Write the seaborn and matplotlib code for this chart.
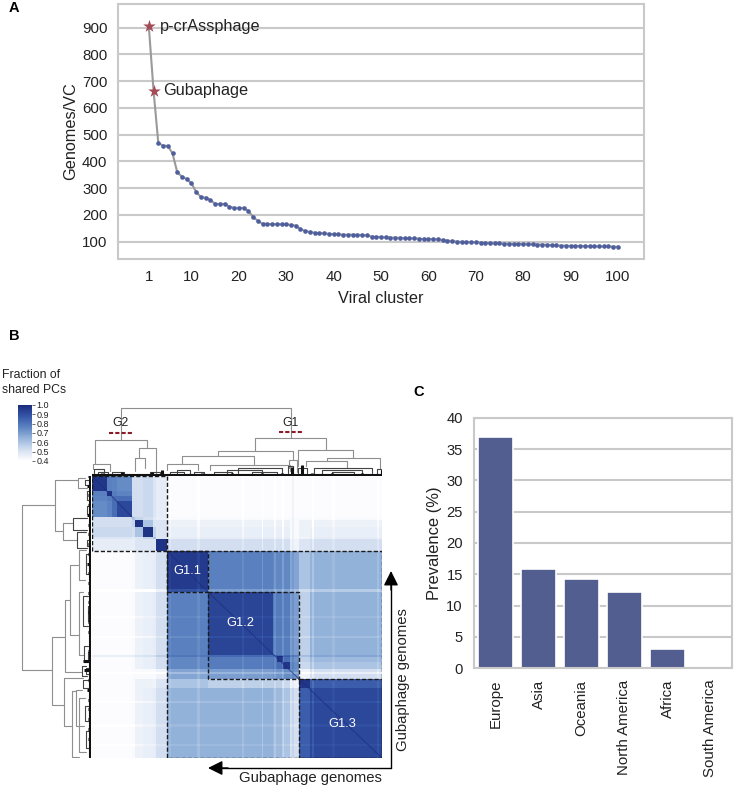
import numpy as np
import pandas as pd
import matplotlib
matplotlib.use('Agg')
import matplotlib.pyplot as plt
import seaborn as sns
from matplotlib.colors import LinearSegmentedColormap
from matplotlib.patches import Rectangle

W, H = 735, 789

# Panel A
cluster_ids = list(range(1, 101))
genomes_per_vc = [905, 664, 469, 459, 458, 430, 359, 343, 334, 318,
                  285, 267, 264, 256, 241, 241, 241, 231, 226, 226,
                  226, 215, 193, 177, 167, 166, 165, 165, 165, 165,
                  162, 160, 146, 140, 136, 133, 131, 131, 129, 128,
                  127, 126, 126, 126, 125, 125, 123, 119, 118, 117,
                  116, 115, 115, 114, 113, 112, 112, 111, 110, 110,
                  109, 108, 106, 104, 102, 100, 99, 99, 98, 98,
                  96, 95, 94, 93, 93, 92, 92, 91, 91, 91,
                  90, 90, 89, 89, 88, 87, 86, 85, 85, 84,
                  84, 84, 83, 83, 83, 82, 82, 82, 81, 81]
x_ticks_a = [1, 10, 20, 30, 40, 50, 60, 70, 80, 90, 100]
y_ticks_a = [100, 200, 300, 400, 500, 600, 700, 800, 900]

# Panel C
regions = ['Europe', 'Asia', 'Oceania', 'North America', 'Africa', 'South America']
prevalence = [37.0, 15.9, 14.2, 12.2, 3.1, 0.0]

# Panel B: genome blocks along each side of the matrix
col_sizes = [15, 5, 5, 15, 3, 8, 10, 3, 11, 41, 65, 4, 6, 7, 9, 11, 72]
row_sizes = [15, 5, 5, 16, 3, 7, 10, 2, 12, 41, 63, 1, 6, 7, 10, 9, 70]
block_fraction = [
    [.97, .77, .76, .74, .52, .52, .54, .50, .47, .41, .41, .41, .41, .41, .41, .41, .41],
    [.77, .98, .78, .76, .52, .52, .54, .50, .47, .41, .41, .41, .41, .41, .41, .41, .41],
    [.76, .78, .82, .82, .52, .52, .54, .50, .47, .41, .41, .41, .41, .41, .41, .41, .41],
    [.74, .76, .82, .92, .52, .52, .54, .50, .47, .41, .41, .41, .41, .41, .41, .41, .41],
    [.52, .52, .52, .52, .60, .55, .52, .48, .46, .42, .42, .42, .42, .42, .42, .42, .42],
    [.52, .52, .52, .52, .55, .98, .60, .50, .50, .45, .45, .45, .45, .45, .42, .45, .45],
    [.54, .54, .54, .54, .52, .60, .98, .55, .50, .46, .46, .46, .46, .46, .42, .45, .46],
    [.50, .50, .50, .50, .48, .50, .55, .60, .50, .47, .47, .47, .47, .47, .42, .44, .47],
    [.47, .47, .47, .47, .46, .50, .50, .50, .98, .52, .52, .52, .52, .52, .44, .50, .52],
    [.41, .41, .41, .41, .42, .45, .46, .47, .52, .96, .77, .75, .75, .75, .68, .60, .65],
    [.41, .41, .41, .41, .42, .45, .46, .47, .52, .77, .93, .78, .78, .78, .70, .56, .65],
    [.41, .41, .41, .41, .42, .45, .46, .47, .52, .75, .78, .82, .79, .79, .72, .57, .63],
    [.41, .41, .41, .41, .42, .45, .46, .47, .52, .75, .78, .79, .97, .82, .72, .56, .63],
    [.41, .41, .41, .41, .42, .45, .46, .47, .52, .75, .78, .79, .82, .97, .74, .54, .60],
    [.41, .41, .41, .41, .42, .42, .42, .42, .44, .68, .70, .72, .72, .74, .72, .44, .52],
    [.41, .41, .41, .41, .42, .45, .45, .44, .50, .60, .56, .57, .56, .54, .44, .97, .86],
    [.41, .41, .41, .41, .42, .45, .46, .47, .52, .65, .65, .63, .63, .60, .52, .86, .92],
]
cbar_ticks = [0.4, 0.5, 0.6, 0.7, 0.8, 0.9, 1.0]
# thin lighter or darker lines across the blocks: start, width, change
col_strips = [(77, 2, -.02), (105, 3, -.03), (150, 2, -.03), (170, 1, -.05), (182, 2, -.04),
              (190, 2, -.05), (200, 2, .03), (220, 2, -.05), (240, 3, -.02), (285, 2, -.03)]
row_strips = [(113, 3, -.07), (140, 2, -.02), (160, 2, -.03), (179, 2, .05), (196, 2, -.06),
              (225, 2, -.03), (248, 3, -.02), (268, 2, -.02)]

# dendrogram links: first position, second position, joint height, first child height, second child height
top_links = [
    (29, 199, 68, 36, 38), (3, 55, 36, 12, 28), (47, 64, 28, 18, 3), (43, 53, 18, 5, 8),
    (163, 234, 38, 25, 26), (126, 201, 25, 20, 16), (90, 162, 20, 12, 11),
    (197, 205, 16, 8, 4), (206, 261, 26, 10, 18), (235, 288, 18, 15, 7),
    (214, 255, 15, 10, 8), (1, 18, 12, 7, 5), (75, 106, 12, 6, 6), (118, 198, 11, 6, 5),
]
top_fine_links = [
    (2, 12, 7, 3, 3), (20, 32, 4, 1, 1), (6, 16, 4, 1, 2), (85, 98, 6, 2, 2), (135, 170, 6, 2, 2),
    (146, 190, 8, 3, 3), (102, 112, 4, 2, 1), (222, 280, 8, 3, 3), (206, 215, 8, 2, 3),
    (285, 289, 7, 2, 2), (230, 270, 6, 2, 2), (78, 92, 4, 1, 1), (122, 140, 4, 1, 1),
    (160, 185, 4, 1, 1), (240, 262, 4, 1, 1), (196, 201, 10, 3, 2), (58, 68, 4, 1, 2),
]
left_links = [
    (29, 194, 69, 36, 39), (4, 55, 36, 13, 28), (47, 64, 28, 18, 14),
    (161, 229, 39, 26, 27), (124, 196, 26, 21, 9), (89, 159, 21, 12, 12),
    (202, 250, 27, 8, 19), (215, 281, 19, 15, 12), (214, 250, 15, 9, 7), (2, 12, 13, 6, 4),
    (74, 104, 12, 5, 6), (116, 179, 12, 8, 7), (222, 276, 12, 6, 5),
]
left_fine_links = [
    (42, 54, 18, 4, 4), (56, 72, 14, 5, 4), (120, 150, 8, 3, 3), (170, 186, 7, 3, 3),
    (190, 200, 9, 5, 4), (78, 98, 5, 2, 2), (4, 9, 6, 2, 2), (15, 24, 4, 1, 1),
    (192, 198, 5, 2, 2), (204, 212, 8, 3, 2), (230, 245, 6, 2, 2), (255, 272, 5, 2, 2),
    (130, 145, 3, 1, 1), (176, 183, 3, 1, 1), (30, 38, 4, 1, 1), (64, 70, 4, 1, 1),
]
fringe_pos = list(range(0, 291, 10))
top_fringe = [2, 3, 2, 4, 2, 2, 4, 6, 2, 1, 2, 3, 2, 2, 3, 2, 2, 3, 2, 3, 9, 11, 3, 2, 3, 2, 2, 3, 2, 6]
left_fringe = [3, 4, 3, 3, 4, 3, 3, 3, 3, 4, 3, 3, 3, 3, 3, 3, 3, 2, 3, 8, 7, 3, 4, 3, 3, 3, 3, 3, 2, 2]

DOT = '#4f5f9e'
BAR = '#525e8f'
STAR = '#a34a57'
GRID = '#c9c9c9'
INK = '#222222'
DENDRO = '#8f8f8f'
DENDRO_FINE = '#444444'

sns.set_theme(style='whitegrid')
plt.rcParams['font.family'] = ['Liberation Sans', 'DejaVu Sans']
plt.rcParams['text.color'] = INK
plt.rcParams['axes.labelcolor'] = INK
plt.rcParams['xtick.color'] = INK
plt.rcParams['ytick.color'] = INK

fig = plt.figure(figsize=(W / 100, H / 100), dpi=100)


def px_axes(left, top, right, bottom):
    return fig.add_axes([left / W, 1 - bottom / H, (right - left) / W, (bottom - top) / H])


def style_axes(ax):
    ax.grid(True, axis='y', color=GRID, lw=1.5)
    ax.grid(False, axis='x')
    ax.set_axisbelow(True)
    for s in ax.spines.values():
        s.set_color(GRID)
        s.set_linewidth(1.5)
    ax.tick_params(length=0)


# A. genomes per viral cluster
ax_a = px_axes(118.5, 4, 644, 259)
df_a = pd.DataFrame({'vc': cluster_ids, 'genomes': genomes_per_vc})
sns.lineplot(data=df_a, x='vc', y='genomes', color='#9a9a9a', lw=1.5, errorbar=None, ax=ax_a)
sns.scatterplot(data=df_a.iloc[2:], x='vc', y='genomes', color=DOT, s=11, linewidth=0, ax=ax_a, zorder=3)
sns.scatterplot(data=df_a.iloc[:2], x='vc', y='genomes', color=STAR, marker='*', s=90, linewidth=0, ax=ax_a, zorder=4)
ax_a.set_xlim(-5.4, 105.5)
ax_a.set_ylim(35, 988.6)
ax_a.set_xticks(x_ticks_a)
ax_a.set_yticks(y_ticks_a)
ax_a.tick_params(labelsize=10.8, pad=8)
style_axes(ax_a)
ax_a.set_xlabel('Viral cluster', fontsize=11.7, labelpad=5)
ax_a.set_ylabel('Genomes/VC', fontsize=11.7, labelpad=3)

# B. shared PCs heatmap
matrix = np.repeat(np.repeat(np.array(block_fraction), row_sizes, axis=0), col_sizes, axis=1)
for start, width, change in col_strips:
    matrix[:, start:start + width] += change
for start, width, change in row_strips:
    matrix[start:start + width, :] += change
cmap = LinearSegmentedColormap.from_list('pcs', ['#ffffff', '#d3dff0', '#98b6dc', '#5d84c2', '#3556a8', '#1b2c7e'])
ax_b = px_axes(92, 476, 382, 758)
ax_cb = px_axes(18, 405, 32, 461)
sns.heatmap(matrix, cmap=cmap, vmin=0.4, vmax=1.0, xticklabels=False, yticklabels=False,
            cbar_ax=ax_cb, cbar_kws={'ticks': cbar_ticks}, ax=ax_b)
ax_cb.tick_params(labelsize=6.5, length=2, width=0.6, pad=1, color='#555555')
ax_b.collections[0].colorbar.outline.set_visible(False)
ax_cb.grid(False)

col_edges = np.concatenate([[0], np.cumsum(col_sizes)])
row_edges = np.concatenate([[0], np.cumsum(row_sizes)])
# blocks as first and last segment on the matrix
for first, last in [(0, 8), (9, 16), (9, 9), (10, 14), (15, 16)]:
    ax_b.add_patch(Rectangle((col_edges[first], row_edges[first]),
                             col_edges[last + 1] - col_edges[first],
                             row_edges[last + 1] - row_edges[first],
                             fill=False, ec='#1a1a1a', lw=1, ls=(0, (3, 1.5)), zorder=5))
# thin dark diagonal of self matches
for first, last in [(0, 3), (9, 9), (10, 14), (15, 16)]:
    ax_b.plot([col_edges[first], col_edges[last + 1]], [row_edges[first], row_edges[last + 1]],
              color='#1b2c7e', lw=0.7, alpha=0.7, zorder=4)
for name, seg in [('G1.1', 9), ('G1.2', 10), ('G1.3', 16)]:
    ax_b.text((col_edges[seg] + col_edges[seg + 1]) / 2 + (0 if seg != 16 else -4),
              (row_edges[seg] + row_edges[seg + 1]) / 2 + (0 if seg != 16 else 1),
              name, color='white', ha='center', va='center', fontsize=9.3, zorder=6)

# dendrograms
ax_top = px_axes(92, 405, 382, 476)
ax_top.set_xlim(0, 290)
ax_top.set_ylim(0, 71)
ax_left = px_axes(20, 476, 91, 758)
ax_left.set_xlim(71, 0)
ax_left.set_ylim(282, 0)
for links, colour in [(top_links, DENDRO), (top_fine_links, DENDRO_FINE)]:
    for a, b, top, h1, h2 in links:
        ax_top.plot([a, a, b, b], [h1, top, top, h2], color=colour, lw=0.8)
for links, colour in [(left_links, DENDRO), (left_fine_links, DENDRO_FINE)]:
    for a, b, top, h1, h2 in links:
        ax_left.plot([h1, top, top, h2], [a, a, b, b], color=colour, lw=0.8)
ax_top.vlines(fringe_pos, 0, top_fringe, color='#111111', lw=2.2)
ax_top.hlines(1, 0, 290, color='#111111', lw=1.5)
ax_left.hlines(np.array(fringe_pos) * 282 / 290, 0, left_fringe, color='#111111', lw=2.2)
ax_left.vlines(1, 0, 282, color='#111111', lw=1.5)
for a in (ax_top, ax_left):
    a.axis('off')

# C. prevalence by region
ax_c = px_axes(474, 418, 732, 668)
sns.barplot(x=regions, y=prevalence, color=BAR, saturation=1, width=0.8,
            edgecolor='white', linewidth=1.2, ax=ax_c)
ax_c.set_ylim(0, 40)
ax_c.set_yticks(range(0, 41, 5))
style_axes(ax_c)
ax_c.tick_params(axis='y', labelsize=10.6, pad=8)
ax_c.tick_params(axis='x', labelsize=10.8, pad=8.5, labelrotation=90)
ax_c.set_ylabel('Prevalence (%)', fontsize=11.9, labelpad=3)

# overlay in pixels for the annotations
ov = fig.add_axes([0, 0, 1, 1], facecolor='none')
ov.set_xlim(0, W)
ov.set_ylim(H, 0)
ov.axis('off')
ov.text(14, 8, 'A', fontsize=10.5, fontweight='bold', color='black', ha='center', va='center')
ov.text(14, 336, 'B', fontsize=10.5, fontweight='bold', color='black', ha='center', va='center')
ov.text(419, 392, 'C', fontsize=10.5, fontweight='bold', color='black', ha='center', va='center')
ov.text(160, 26, 'p-crAssphage', fontsize=11.7, va='center')
ov.text(163, 90, 'Gubaphage', fontsize=11.7, va='center')
ov.text(2, 375, 'Fraction of', fontsize=8.8, va='center')
ov.text(2, 390, 'shared PCs', fontsize=8.8, va='center')
ov.text(121, 423, 'G2', fontsize=8.8, ha='center', va='center')
ov.text(291, 423, 'G1', fontsize=8.8, ha='center', va='center')
ov.plot([109, 133], [433, 433], color='#8b1a2b', lw=1.5, ls=(0, (2, 1)))
ov.plot([279, 303], [432, 432], color='#8b1a2b', lw=1.5, ls=(0, (2, 1)))
ov.plot([391, 391], [768, 585], color='black', lw=1)
ov.plot([391, 222], [768, 768], color='black', lw=1)
ov.annotate('', xy=(391, 571), xytext=(391, 590),
            arrowprops=dict(arrowstyle='-|>', color='black', lw=1, mutation_scale=22, shrinkA=0, shrinkB=0))
ov.annotate('', xy=(208, 768), xytext=(228, 768),
            arrowprops=dict(arrowstyle='-|>', color='black', lw=1, mutation_scale=22, shrinkA=0, shrinkB=0))
ov.text(310, 778, 'Gubaphage genomes', fontsize=10.7, ha='center', va='center')
ov.text(403, 680, 'Gubaphage genomes', fontsize=10.7, rotation=90, ha='center', va='center')

fig.savefig('out.png', dpi=100)
plt.close(fig)
